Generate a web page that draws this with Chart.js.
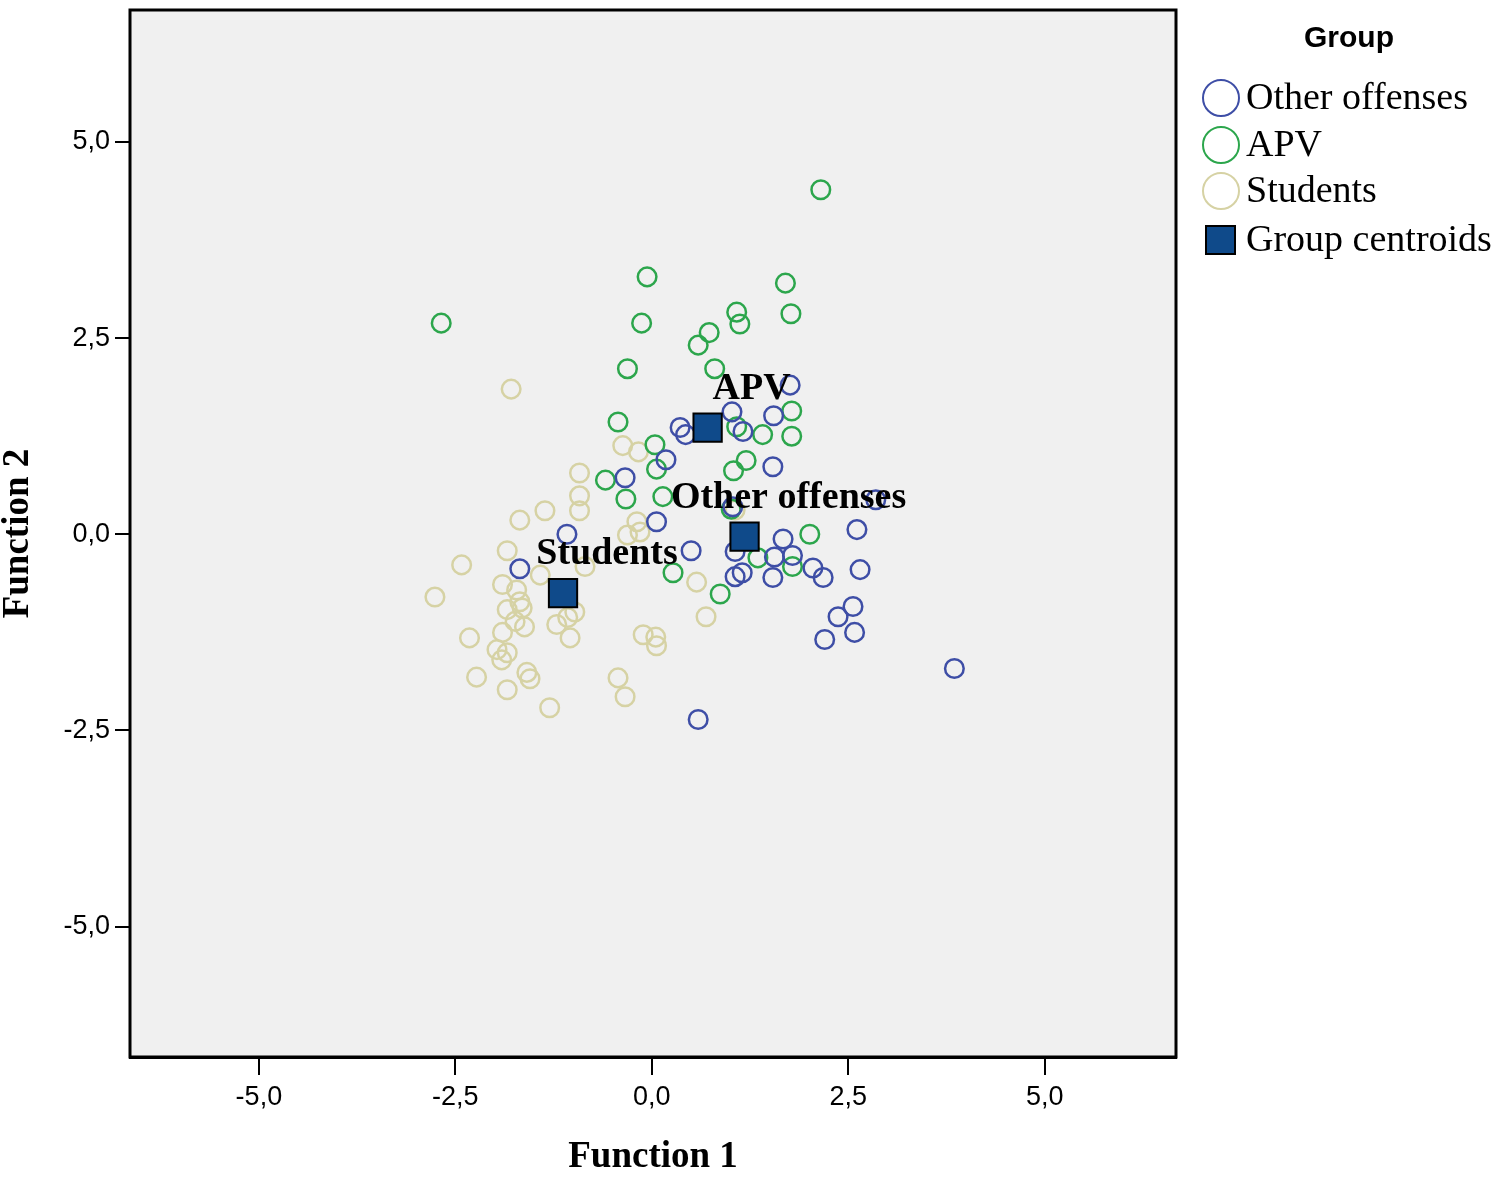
<!DOCTYPE html>
<html>
<head>
<meta charset="utf-8">
<script src="https://cdn.jsdelivr.net/npm/chart.js@4.4.0/dist/chart.umd.min.js"></script>
<style>
  html, body { margin: 0; padding: 0; background: #fff; }
  canvas { display: block; }
</style>
</head>
<body>
<canvas id="chart" width="1500" height="1189"></canvas>
<script>
// discriminant function scores, [function 1, function 2]
const otherOffenses = [
  [3.85,-1.71],[0.59,-2.36],[1.76,1.90],[1.02,1.56],[1.55,1.51],[0.36,1.36],[0.43,1.27],
  [1.16,1.31],[0.18,0.95],[1.54,0.86],[-0.34,0.72],[0.06,0.16],[-1.08,0.00],[-1.68,-0.44],
  [0.50,-0.21],[1.06,-0.22],[1.67,-0.06],[1.79,-0.27],[1.56,-0.29],[2.05,-0.43],[2.18,-0.55],
  [1.06,-0.54],[1.15,-0.49],[1.54,-0.55],[2.61,0.06],[2.65,-0.45],[2.56,-0.92],[2.37,-1.05],
  [2.58,-1.25],[2.20,-1.34],[2.85,0.44],[1.03,0.35]
];
const apv = [
  [2.15,4.39],[-2.68,2.69],[-0.06,3.28],[1.70,3.20],[1.77,2.81],[1.08,2.83],[1.12,2.68],
  [-0.13,2.69],[0.73,2.57],[0.59,2.41],[-0.31,2.11],[0.80,2.11],[-0.43,1.43],[1.78,1.57],
  [1.41,1.27],[1.78,1.25],[1.08,1.37],[0.04,1.14],[1.20,0.94],[1.04,0.81],[0.06,0.83],
  [-0.59,0.69],[-0.33,0.45],[0.14,0.48],[1.01,0.32],[2.01,0.00],[1.79,-0.41],[1.35,-0.30],
  [0.27,-0.49],[0.87,-0.76]
];
const students = [
  [-1.79,1.85],[-0.92,0.78],[-0.92,0.49],[-0.92,0.30],[-1.36,0.30],[-1.68,0.18],[-0.37,1.13],
  [-0.17,1.05],[-0.19,0.16],[-0.15,0.03],[-0.31,-0.01],[-1.84,-0.21],[-2.42,-0.39],[-2.76,-0.80],
  [-1.90,-0.64],[-1.72,-0.71],[-1.68,-0.86],[-1.84,-0.96],[-1.65,-0.94],[-1.74,-1.11],[-1.62,-1.18],
  [-1.90,-1.25],[-1.97,-1.47],[-1.84,-1.51],[-1.91,-1.60],[-2.32,-1.32],[-2.23,-1.82],[-1.84,-1.98],
  [-1.59,-1.76],[-1.55,-1.84],[-1.30,-2.21],[-1.21,-1.15],[-1.04,-1.32],[-0.98,-0.99],[-1.42,-0.52],
  [-0.85,-0.41],[-0.43,-1.83],[-0.34,-2.07],[-0.11,-1.28],[0.05,-1.31],[0.06,-1.42],[0.57,-0.61],
  [0.69,-1.05],[1.06,0.31],[-1.07,-1.06]
];
const centroids = [[0.71,1.36],[1.18,-0.03],[-1.13,-0.75]];
const centroidNames = ["APV", "Other offenses", "Students"];
const tickValues = [-5, -2.5, 0, 2.5, 5];

const BLUE = "#3e4ea6", GREEN = "#2ca64c", BEIGE = "#d6d2a4", CENTROID = "#0f4a8a";

const toPoints = arr => arr.map(p => ({ x: p[0], y: p[1] }));
const fmt = v => v.toFixed(1).replace(".", ",");

function circleSet(label, data, color, order){
  return {
    label, data: toPoints(data), order,
    pointStyle: "circle", pointRadius: 9.3, pointBorderWidth: 2.5,
    borderColor: color, pointBorderColor: color,
    backgroundColor: "transparent", pointBackgroundColor: "transparent"
  };
}

// grey plot background + frame
const plotFrame = {
  id: "plotFrame",
  beforeDatasetsDraw(chart){
    const {ctx, chartArea:a} = chart;
    ctx.save();
    ctx.fillStyle = "#f0f0f0";
    ctx.fillRect(a.left, a.top, a.right - a.left, a.bottom - a.top);
    ctx.restore();
  },
  afterDraw(chart){
    const {ctx, chartArea:a} = chart;
    ctx.save();
    ctx.strokeStyle = "#000";
    ctx.lineWidth = 3;
    ctx.strokeRect(a.left, a.top, a.right - a.left, a.bottom - a.top);
    ctx.restore();
  }
};

// names next to the centroid squares
const centroidText = {
  id: "centroidText",
  afterDatasetsDraw(chart){
    const meta = chart.getDatasetMeta(3);
    const ctx = chart.ctx;
    ctx.save();
    ctx.font = 'bold 38px "Liberation Serif"';
    ctx.fillStyle = "#000";
    ctx.textAlign = "center";
    ctx.textBaseline = "alphabetic";
    meta.data.forEach((pt, i) => ctx.fillText(centroidNames[i], pt.x + 44, pt.y - 29));
    ctx.restore();
  }
};

// legend on the right
const sideLegend = {
  id: "sideLegend",
  afterDraw(chart){
    const ctx = chart.ctx;
    const sets = chart.data.datasets;
    ctx.save();
    ctx.fillStyle = "#000";
    ctx.textAlign = "center";
    ctx.textBaseline = "middle";
    ctx.font = 'bold 30px "Liberation Sans"';
    ctx.fillText("Group", 1349, 39);
    ctx.textAlign = "left";
    ctx.font = '38px "Liberation Serif"';
    const rows = [98, 145, 191, 240];
    sets.forEach((ds, i) => {
      const y = rows[i];
      if (ds.pointStyle === "circle"){
        ctx.beginPath();
        ctx.arc(1221, y, 18, 0, Math.PI * 2);
        ctx.lineWidth = 2;
        ctx.strokeStyle = ds.borderColor;
        ctx.stroke();
      } else {
        ctx.fillStyle = ds.backgroundColor;
        ctx.fillRect(1206, y - 14, 29, 28);
        ctx.lineWidth = 2;
        ctx.strokeStyle = "#000";
        ctx.strokeRect(1206, y - 14, 29, 28);
      }
      ctx.fillStyle = "#000";
      ctx.fillText(ds.label, 1246, y + 1);
    });
    ctx.restore();
  }
};

new Chart(document.getElementById("chart"), {
  type: "scatter",
  data: {
    datasets: [
      circleSet("Other offenses", otherOffenses, BLUE, 2),
      circleSet("APV", apv, GREEN, 3),
      circleSet("Students", students, BEIGE, 4),
      {
        label: "Group centroids", data: toPoints(centroids), order: 0,
        pointStyle: "rect", pointRadius: 20, pointBorderWidth: 2,
        borderColor: "#000", pointBorderColor: "#000",
        backgroundColor: CENTROID, pointBackgroundColor: CENTROID
      }
    ]
  },
  options: {
    responsive: false,
    devicePixelRatio: 1,
    animation: false,
    events: [],
    layout: { autoPadding: false, padding: { top: 10, right: 324, left: 0, bottom: 0 } },
    plugins: { legend: { display: false }, tooltip: { enabled: false } },
    scales: {
      x: {
        type: "linear", min: -6.64, max: 6.67,
        afterFit: s => { s.height = 132; s.paddingLeft = 0; s.paddingRight = 0; },
        afterBuildTicks: s => { s.ticks = tickValues.map(v => ({ value: v })); },
        grid: { drawOnChartArea: false, drawTicks: true, tickLength: 18, color: "#000", lineWidth: 2 },
        border: { display: true, color: "#000", width: 3 },
        ticks: { callback: fmt, color: "#000", padding: 6, font: { family: "Liberation Sans", size: 27 }, maxRotation: 0 },
        title: { display: true, text: "Function 1", color: "#000",
          font: { family: "Liberation Serif", size: 37, weight: "bold", lineHeight: 1 },
          padding: { top: 0, bottom: 13 } }
      },
      y: {
        type: "linear", min: -6.66, max: 6.68,
        afterFit: s => { s.width = 130; s.paddingTop = 0; s.paddingBottom = 0; },
        afterBuildTicks: s => { s.ticks = tickValues.map(v => ({ value: v })); },
        grid: { drawOnChartArea: false, drawTicks: true, tickLength: 15, color: "#000", lineWidth: 2 },
        border: { display: true, color: "#000", width: 3 },
        ticks: { callback: fmt, color: "#000", padding: 5, font: { family: "Liberation Sans", size: 27 } },
        title: { display: true, text: "Function 2", color: "#000",
          font: { family: "Liberation Serif", size: 37, weight: "bold", lineHeight: 1 },
          padding: { top: 0, bottom: 0 } }
      }
    }
  },
  plugins: [plotFrame, centroidText, sideLegend]
});
</script>
</body>
</html>
